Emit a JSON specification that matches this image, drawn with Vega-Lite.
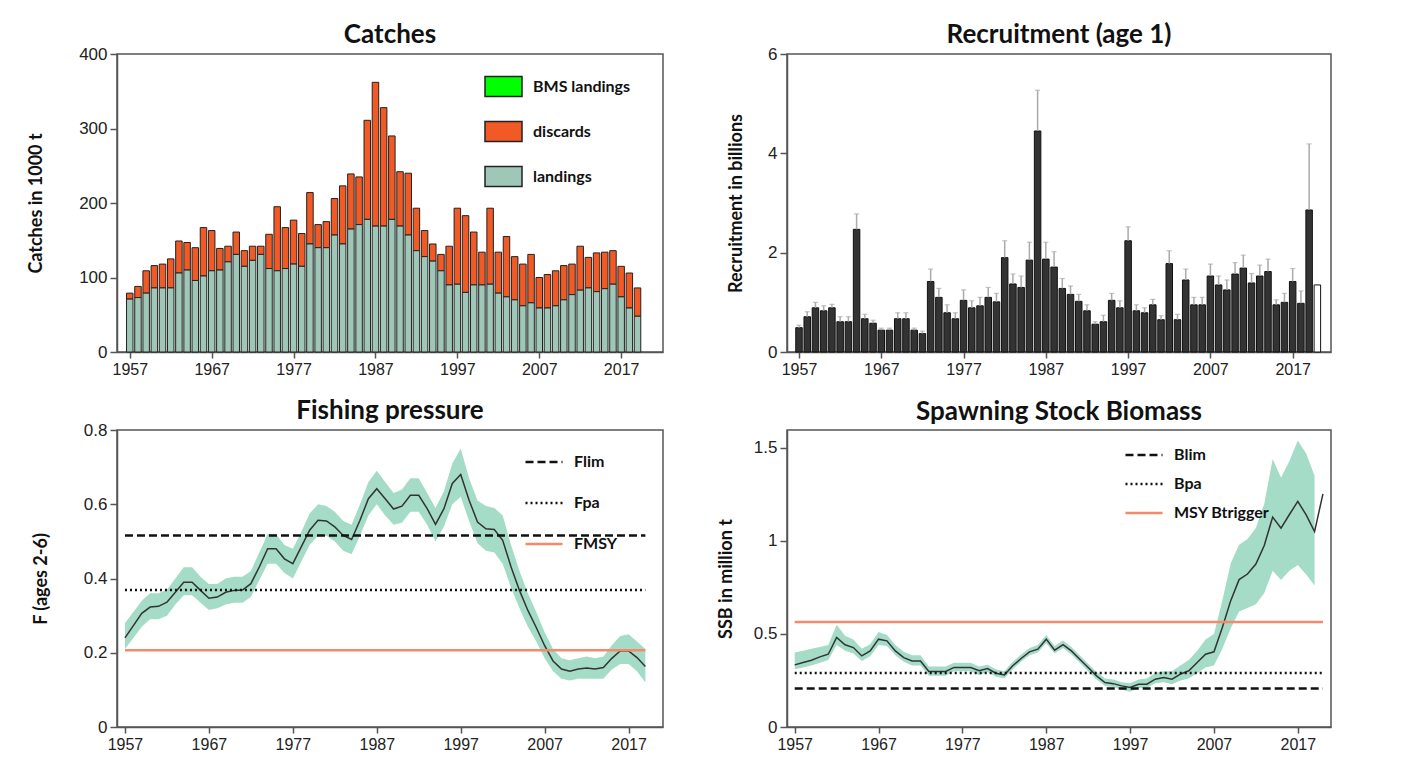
{
  "$schema": "https://vega.github.io/schema/vega-lite/v6.json",
  "autosize": {"type": "pad"},
  "padding": {"left": 26, "top": 21, "right": 6, "bottom": 6},
  "background": "white",
  "columns": 2,
  "bounds": "flush",
  "spacing": {"row": 78, "column": 124},
  "resolve": {"legend": {"fill": "independent", "color": "independent", "strokeDash": "independent"}, "scale": {"color": "independent", "strokeDash": "independent", "fill": "independent"}},
  "config": {
    "view": {"stroke": "#555", "strokeWidth": 1.5},
    "axis": {"grid": false, "domainColor": "#555", "domainWidth": 1.5, "tickColor": "#555", "tickWidth": 1.5, "tickSize": 7, "labelPadding": 3, "labelFont": "Liberation Sans", "labelFontSize": 17, "labelColor": "#222", "titleFont": "Lato", "titleFontWeight": "bold", "titleFontSize": 18, "titleColor": "#111"},
    "axisX": {"labelFontSize": 16, "tickSize": 6},
    "title": {"font": "Lato", "fontSize": 26, "fontWeight": "bold", "color": "#111", "offset": 7, "frame": "group"},
    "legend": {"labelFont": "Lato", "labelFontWeight": "bold", "labelFontSize": 16, "labelColor": "#111", "title": null}
  },
  "datasets": {
    "catch": [
      {"year":1957,"landings":71,"discards":8},{"year":1958,"landings":73,"discards":15},{"year":1959,"landings":79,"discards":30},{"year":1960,"landings":86,"discards":30},{"year":1961,"landings":86,"discards":32},{"year":1962,"landings":86,"discards":39},{"year":1963,"landings":106,"discards":43},{"year":1964,"landings":110,"discards":37},{"year":1965,"landings":96,"discards":44},{"year":1966,"landings":102,"discards":65},{"year":1967,"landings":109,"discards":54},{"year":1968,"landings":110,"discards":29},{"year":1969,"landings":121,"discards":21},{"year":1970,"landings":131,"discards":30},{"year":1971,"landings":115,"discards":21},{"year":1972,"landings":123,"discards":19},{"year":1973,"landings":131,"discards":11},{"year":1974,"landings":112,"discards":46},{"year":1975,"landings":109,"discards":86},{"year":1976,"landings":112,"discards":55},{"year":1977,"landings":118,"discards":59},{"year":1978,"landings":115,"discards":44},{"year":1979,"landings":145,"discards":69},{"year":1980,"landings":140,"discards":31},{"year":1981,"landings":140,"discards":35},{"year":1982,"landings":157,"discards":49},{"year":1983,"landings":145,"discards":78},{"year":1984,"landings":165,"discards":74},{"year":1985,"landings":171,"discards":64},{"year":1986,"landings":178,"discards":133},{"year":1987,"landings":169,"discards":193},{"year":1988,"landings":169,"discards":159},{"year":1989,"landings":178,"discards":112},{"year":1990,"landings":169,"discards":73},{"year":1991,"landings":157,"discards":83},{"year":1992,"landings":136,"discards":57},{"year":1993,"landings":128,"discards":35},{"year":1994,"landings":122,"discards":23},{"year":1995,"landings":109,"discards":22},{"year":1996,"landings":90,"discards":52},{"year":1997,"landings":91,"discards":102},{"year":1998,"landings":80,"discards":103},{"year":1999,"landings":90,"discards":71},{"year":2000,"landings":90,"discards":44},{"year":2001,"landings":91,"discards":102},{"year":2002,"landings":79,"discards":55},{"year":2003,"landings":74,"discards":81},{"year":2004,"landings":70,"discards":58},{"year":2005,"landings":62,"discards":56},{"year":2006,"landings":66,"discards":65},{"year":2007,"landings":59,"discards":41},{"year":2008,"landings":59,"discards":45},{"year":2009,"landings":62,"discards":47},{"year":2010,"landings":70,"discards":46},{"year":2011,"landings":77,"discards":41},{"year":2012,"landings":83,"discards":59},{"year":2013,"landings":86,"discards":41},{"year":2014,"landings":81,"discards":52},{"year":2015,"landings":85,"discards":49},{"year":2016,"landings":91,"discards":45},{"year":2017,"landings":74,"discards":41},{"year":2018,"landings":59,"discards":47},{"year":2019,"landings":48,"discards":38}
    ],
    "rec": [
      {"year":1957,"r":0.49,"hi":0.54},{"year":1958,"r":0.71,"hi":0.81},{"year":1959,"r":0.89,"hi":1.0},{"year":1960,"r":0.83,"hi":0.93},{"year":1961,"r":0.89,"hi":0.96},{"year":1962,"r":0.61,"hi":0.71},{"year":1963,"r":0.61,"hi":0.71},{"year":1964,"r":2.47,"hi":2.78},{"year":1965,"r":0.67,"hi":0.76},{"year":1966,"r":0.58,"hi":0.64},{"year":1967,"r":0.44,"hi":0.48},{"year":1968,"r":0.44,"hi":0.48},{"year":1969,"r":0.67,"hi":0.79},{"year":1970,"r":0.67,"hi":0.79},{"year":1971,"r":0.44,"hi":0.48},{"year":1972,"r":0.37,"hi":0.42},{"year":1973,"r":1.42,"hi":1.67},{"year":1974,"r":1.10,"hi":1.28},{"year":1975,"r":0.79,"hi":0.95},{"year":1976,"r":0.67,"hi":0.79},{"year":1977,"r":1.04,"hi":1.25},{"year":1978,"r":0.89,"hi":1.03},{"year":1979,"r":0.93,"hi":1.10},{"year":1980,"r":1.10,"hi":1.30},{"year":1981,"r":1.01,"hi":1.18},{"year":1982,"r":1.90,"hi":2.24},{"year":1983,"r":1.37,"hi":1.57},{"year":1984,"r":1.30,"hi":1.53},{"year":1985,"r":1.85,"hi":2.21},{"year":1986,"r":4.45,"hi":5.27},{"year":1987,"r":1.87,"hi":2.21},{"year":1988,"r":1.71,"hi":2.02},{"year":1989,"r":1.28,"hi":1.48},{"year":1990,"r":1.16,"hi":1.33},{"year":1991,"r":1.02,"hi":1.16},{"year":1992,"r":0.83,"hi":0.95},{"year":1993,"r":0.56,"hi":0.61},{"year":1994,"r":0.61,"hi":0.74},{"year":1995,"r":1.04,"hi":1.18},{"year":1996,"r":0.89,"hi":1.03},{"year":1997,"r":2.24,"hi":2.52},{"year":1998,"r":0.83,"hi":0.95},{"year":1999,"r":0.79,"hi":0.89},{"year":2000,"r":0.95,"hi":1.06},{"year":2001,"r":0.65,"hi":0.73},{"year":2002,"r":1.78,"hi":2.04},{"year":2003,"r":0.65,"hi":0.76},{"year":2004,"r":1.45,"hi":1.67},{"year":2005,"r":0.95,"hi":1.10},{"year":2006,"r":0.95,"hi":1.10},{"year":2007,"r":1.53,"hi":1.77},{"year":2008,"r":1.35,"hi":1.53},{"year":2009,"r":1.25,"hi":1.45},{"year":2010,"r":1.57,"hi":1.80},{"year":2011,"r":1.69,"hi":1.95},{"year":2012,"r":1.39,"hi":1.58},{"year":2013,"r":1.53,"hi":1.75},{"year":2014,"r":1.62,"hi":1.87},{"year":2015,"r":0.95,"hi":1.05},{"year":2016,"r":1.00,"hi":1.18},{"year":2017,"r":1.42,"hi":1.68},{"year":2018,"r":0.98,"hi":1.23},{"year":2019,"r":2.86,"hi":4.19},{"year":2020,"r":1.35}
    ],
    "fish": [
      {"year":1957,"f":0.240,"lo":0.21,"hi":0.28},{"year":1958,"f":0.273,"lo":0.24,"hi":0.31},{"year":1959,"f":0.306,"lo":0.27,"hi":0.34},{"year":1960,"f":0.323,"lo":0.29,"hi":0.36},{"year":1961,"f":0.325,"lo":0.29,"hi":0.36},{"year":1962,"f":0.336,"lo":0.30,"hi":0.37},{"year":1963,"f":0.363,"lo":0.33,"hi":0.40},{"year":1964,"f":0.390,"lo":0.355,"hi":0.43},{"year":1965,"f":0.390,"lo":0.355,"hi":0.43},{"year":1966,"f":0.368,"lo":0.335,"hi":0.405},{"year":1967,"f":0.347,"lo":0.315,"hi":0.385},{"year":1968,"f":0.350,"lo":0.32,"hi":0.385},{"year":1969,"f":0.363,"lo":0.33,"hi":0.40},{"year":1970,"f":0.368,"lo":0.335,"hi":0.405},{"year":1971,"f":0.369,"lo":0.335,"hi":0.405},{"year":1972,"f":0.386,"lo":0.35,"hi":0.42},{"year":1973,"f":0.431,"lo":0.395,"hi":0.47},{"year":1974,"f":0.480,"lo":0.44,"hi":0.52},{"year":1975,"f":0.480,"lo":0.44,"hi":0.52},{"year":1976,"f":0.453,"lo":0.415,"hi":0.49},{"year":1977,"f":0.440,"lo":0.40,"hi":0.48},{"year":1978,"f":0.485,"lo":0.445,"hi":0.525},{"year":1979,"f":0.530,"lo":0.49,"hi":0.575},{"year":1980,"f":0.557,"lo":0.515,"hi":0.60},{"year":1981,"f":0.555,"lo":0.515,"hi":0.595},{"year":1982,"f":0.539,"lo":0.50,"hi":0.58},{"year":1983,"f":0.516,"lo":0.475,"hi":0.555},{"year":1984,"f":0.505,"lo":0.465,"hi":0.545},{"year":1985,"f":0.557,"lo":0.515,"hi":0.60},{"year":1986,"f":0.615,"lo":0.57,"hi":0.66},{"year":1987,"f":0.642,"lo":0.60,"hi":0.69},{"year":1988,"f":0.615,"lo":0.57,"hi":0.66},{"year":1989,"f":0.587,"lo":0.545,"hi":0.63},{"year":1990,"f":0.595,"lo":0.55,"hi":0.64},{"year":1991,"f":0.624,"lo":0.58,"hi":0.67},{"year":1992,"f":0.624,"lo":0.58,"hi":0.67},{"year":1993,"f":0.588,"lo":0.545,"hi":0.63},{"year":1994,"f":0.546,"lo":0.50,"hi":0.59},{"year":1995,"f":0.588,"lo":0.54,"hi":0.635},{"year":1996,"f":0.656,"lo":0.60,"hi":0.71},{"year":1997,"f":0.680,"lo":0.62,"hi":0.75},{"year":1998,"f":0.611,"lo":0.555,"hi":0.67},{"year":1999,"f":0.552,"lo":0.495,"hi":0.61},{"year":2000,"f":0.534,"lo":0.475,"hi":0.595},{"year":2001,"f":0.532,"lo":0.47,"hi":0.59},{"year":2002,"f":0.503,"lo":0.44,"hi":0.57},{"year":2003,"f":0.431,"lo":0.375,"hi":0.49},{"year":2004,"f":0.368,"lo":0.32,"hi":0.42},{"year":2005,"f":0.314,"lo":0.27,"hi":0.36},{"year":2006,"f":0.268,"lo":0.23,"hi":0.31},{"year":2007,"f":0.219,"lo":0.185,"hi":0.255},{"year":2008,"f":0.178,"lo":0.15,"hi":0.21},{"year":2009,"f":0.156,"lo":0.13,"hi":0.185},{"year":2010,"f":0.150,"lo":0.125,"hi":0.18},{"year":2011,"f":0.156,"lo":0.13,"hi":0.185},{"year":2012,"f":0.159,"lo":0.13,"hi":0.19},{"year":2013,"f":0.156,"lo":0.13,"hi":0.185},{"year":2014,"f":0.160,"lo":0.13,"hi":0.19},{"year":2015,"f":0.185,"lo":0.155,"hi":0.22},{"year":2016,"f":0.205,"lo":0.17,"hi":0.245},{"year":2017,"f":0.205,"lo":0.17,"hi":0.25},{"year":2018,"f":0.187,"lo":0.15,"hi":0.23},{"year":2019,"f":0.163,"lo":0.12,"hi":0.21}
    ],
    "ssb": [
      {"year":1957,"b":0.334,"lo":0.31,"hi":0.40},{"year":1958,"b":0.347,"lo":0.32,"hi":0.41},{"year":1959,"b":0.359,"lo":0.33,"hi":0.42},{"year":1960,"b":0.377,"lo":0.345,"hi":0.43},{"year":1961,"b":0.391,"lo":0.36,"hi":0.44},{"year":1962,"b":0.481,"lo":0.44,"hi":0.55},{"year":1963,"b":0.442,"lo":0.41,"hi":0.49},{"year":1964,"b":0.427,"lo":0.395,"hi":0.47},{"year":1965,"b":0.382,"lo":0.355,"hi":0.42},{"year":1966,"b":0.409,"lo":0.38,"hi":0.445},{"year":1967,"b":0.472,"lo":0.44,"hi":0.51},{"year":1968,"b":0.463,"lo":0.435,"hi":0.495},{"year":1969,"b":0.409,"lo":0.385,"hi":0.44},{"year":1970,"b":0.373,"lo":0.35,"hi":0.405},{"year":1971,"b":0.355,"lo":0.33,"hi":0.385},{"year":1972,"b":0.355,"lo":0.33,"hi":0.385},{"year":1973,"b":0.298,"lo":0.275,"hi":0.325},{"year":1974,"b":0.298,"lo":0.275,"hi":0.325},{"year":1975,"b":0.298,"lo":0.275,"hi":0.325},{"year":1976,"b":0.320,"lo":0.30,"hi":0.345},{"year":1977,"b":0.320,"lo":0.30,"hi":0.345},{"year":1978,"b":0.320,"lo":0.30,"hi":0.345},{"year":1979,"b":0.302,"lo":0.28,"hi":0.325},{"year":1980,"b":0.314,"lo":0.295,"hi":0.335},{"year":1981,"b":0.289,"lo":0.27,"hi":0.31},{"year":1982,"b":0.280,"lo":0.26,"hi":0.30},{"year":1983,"b":0.329,"lo":0.31,"hi":0.35},{"year":1984,"b":0.368,"lo":0.35,"hi":0.39},{"year":1985,"b":0.404,"lo":0.385,"hi":0.425},{"year":1986,"b":0.418,"lo":0.40,"hi":0.44},{"year":1987,"b":0.472,"lo":0.45,"hi":0.495},{"year":1988,"b":0.413,"lo":0.395,"hi":0.435},{"year":1989,"b":0.443,"lo":0.425,"hi":0.465},{"year":1990,"b":0.409,"lo":0.39,"hi":0.43},{"year":1991,"b":0.364,"lo":0.345,"hi":0.385},{"year":1992,"b":0.320,"lo":0.30,"hi":0.34},{"year":1993,"b":0.275,"lo":0.255,"hi":0.295},{"year":1994,"b":0.239,"lo":0.22,"hi":0.26},{"year":1995,"b":0.233,"lo":0.215,"hi":0.255},{"year":1996,"b":0.221,"lo":0.20,"hi":0.24},{"year":1997,"b":0.212,"lo":0.19,"hi":0.235},{"year":1998,"b":0.230,"lo":0.21,"hi":0.255},{"year":1999,"b":0.230,"lo":0.21,"hi":0.26},{"year":2000,"b":0.257,"lo":0.235,"hi":0.29},{"year":2001,"b":0.266,"lo":0.24,"hi":0.30},{"year":2002,"b":0.257,"lo":0.23,"hi":0.30},{"year":2003,"b":0.284,"lo":0.25,"hi":0.33},{"year":2004,"b":0.302,"lo":0.26,"hi":0.36},{"year":2005,"b":0.347,"lo":0.29,"hi":0.41},{"year":2006,"b":0.391,"lo":0.32,"hi":0.47},{"year":2007,"b":0.404,"lo":0.33,"hi":0.50},{"year":2008,"b":0.535,"lo":0.42,"hi":0.68},{"year":2009,"b":0.679,"lo":0.53,"hi":0.88},{"year":2010,"b":0.792,"lo":0.62,"hi":0.98},{"year":2011,"b":0.822,"lo":0.64,"hi":1.01},{"year":2012,"b":0.876,"lo":0.66,"hi":1.07},{"year":2013,"b":0.975,"lo":0.72,"hi":1.20},{"year":2014,"b":1.128,"lo":0.84,"hi":1.44},{"year":2015,"b":1.068,"lo":0.79,"hi":1.34},{"year":2016,"b":1.142,"lo":0.84,"hi":1.43},{"year":2017,"b":1.212,"lo":0.87,"hi":1.54},{"year":2018,"b":1.140,"lo":0.82,"hi":1.47},{"year":2019,"b":1.050,"lo":0.76,"hi":1.35},{"year":2020,"b":1.253}
    ],
    "fref": [{"ref":"Flim","value":0.516},{"ref":"Fpa","value":0.369},{"ref":"FMSY","value":0.207}],
    "bref": [{"ref":"Blim","value":0.207},{"ref":"Bpa","value":0.290},{"ref":"MSY Btrigger","value":0.564}]
  },
  "concat": [
    {
      "title": {"text": "Catches", "dy": 10},
      "width": 546, "height": 298,
      "data": {"name": "catch"},
      "transform": [{"fold": ["discards", "landings"], "as": ["type", "value"]}],
      "mark": {"type": "bar", "width": 6.5, "stroke": "#222", "strokeWidth": 1},
      "encoding": {
        "x": {"field": "year", "type": "quantitative", "scale": {"domain": [1956.05, 2021.5], "nice": false, "zero": false},
              "axis": {"title": null, "values": [1957,1967,1977,1987,1997,2007,2017], "format": "d"}},
        "y": {"field": "value", "type": "quantitative", "stack": "zero", "scale": {"domain": [0, 400], "nice": false},
              "axis": {"title": "Catches in 1000 t", "values": [0,100,200,300,400], "titlePadding": 33}},
        "fill": {"field": "type", "type": "nominal",
                 "scale": {"domain": ["BMS landings", "discards", "landings"], "range": ["#00ff00", "#f15a24", "#9fc7b8"]},
                 "legend": {"orient": "none", "legendX": 367, "legendY": 13, "symbolType": "M-1,-0.54H1V0.54H-1Z", "symbolSize": 1369, "symbolStrokeColor": "#222", "symbolStrokeWidth": 1.5, "symbolOpacity": 1, "labelOffset": 10, "rowPadding": 12}},
        "order": {"field": "type", "sort": "descending"}
      }
    },
    {
      "title": {"text": "Recruitment (age 1)", "dy": 10},
      "width": 544, "height": 298,
      "data": {"name": "rec"},
      "layer": [
        {
          "mark": {"type": "bar", "width": 6.5, "stroke": "#111", "strokeWidth": 1},
          "encoding": {
            "x": {"field": "year", "type": "quantitative", "scale": {"domain": [1956.15, 2021.05], "nice": false, "zero": false},
                  "axis": {"title": null, "values": [1957,1967,1977,1987,1997,2007,2017], "format": "d"}},
            "y": {"field": "r", "type": "quantitative", "scale": {"domain": [0, 6], "nice": false},
                  "axis": {"title": "Recruitment in billions", "values": [0,2,4,6], "titlePadding": 22}},
            "fill": {"condition": {"test": "datum.year === 2020", "value": "white"}, "value": "#333"}
          }
        },
        {
          "mark": {"type": "rule", "color": "#aaaaaa", "strokeWidth": 1.5},
          "encoding": {
            "x": {"field": "year", "type": "quantitative"},
            "y": {"field": "r", "type": "quantitative"},
            "y2": {"field": "hi"}
          }
        },
        {
          "mark": {"type": "tick", "orient": "horizontal", "color": "#aaaaaa", "size": 5, "thickness": 1.2},
          "encoding": {
            "x": {"field": "year", "type": "quantitative"},
            "y": {"field": "hi", "type": "quantitative"}
          }
        }
      ]
    },
    {
      "title": {"text": "Fishing pressure", "dy": 10},
      "width": 546, "height": 297,
      "layer": [
        {
          "data": {"name": "fish"},
          "mark": {"type": "area", "color": "#a4dcc8", "opacity": 1},
          "encoding": {
            "x": {"field": "year", "type": "quantitative", "scale": {"domain": [1956.05, 2021.1], "nice": false, "zero": false},
                  "axis": {"title": null, "values": [1957,1967,1977,1987,1997,2007,2017], "format": "d"}},
            "y": {"field": "lo", "type": "quantitative", "scale": {"domain": [0, 0.8], "nice": false},
                  "axis": {"title": "F (ages 2-6)", "values": [0,0.2,0.4,0.6,0.8], "format": "~g", "titlePadding": 33}},
            "y2": {"field": "hi"}
          }
        },
        {
          "data": {"name": "fish"},
          "mark": {"type": "line", "color": "#333", "strokeWidth": 1.5},
          "encoding": {
            "x": {"field": "year", "type": "quantitative"},
            "y": {"field": "f", "type": "quantitative"}
          }
        },
        {
          "data": {"name": "fref"},
          "mark": {"type": "rule", "strokeWidth": 2.5},
          "encoding": {
            "x": {"datum": 1957},
            "x2": {"datum": 2019},
            "y": {"field": "value", "type": "quantitative"},
            "color": {"field": "ref", "type": "nominal", "scale": {"domain": ["Flim", "Fpa", "FMSY"], "range": ["#111111", "#111111", "#f4896b"]},
                      "legend": {"orient": "none", "legendX": 407, "legendY": 12, "symbolType": "stroke", "symbolSize": 1369, "symbolStrokeWidth": 2.5, "labelOffset": 10, "rowPadding": 13}},
            "strokeDash": {"field": "ref", "type": "nominal", "scale": {"domain": ["Flim", "Fpa", "FMSY"], "range": [[8, 4], [2, 3], [1, 0]]}}
          }
        }
      ]
    },
    {
      "title": {"text": "Spawning Stock Biomass", "dy": 2},
      "width": 544, "height": 297,
      "layer": [
        {
          "data": {"name": "ssb"},
          "mark": {"type": "area", "color": "#a4dcc8", "opacity": 1},
          "encoding": {
            "x": {"field": "year", "type": "quantitative", "scale": {"domain": [1956.08, 2020.96], "nice": false, "zero": false},
                  "axis": {"title": null, "values": [1957,1967,1977,1987,1997,2007,2017], "format": "d"}},
            "y": {"field": "lo", "type": "quantitative", "scale": {"domain": [0, 1.596], "nice": false},
                  "axis": {"title": "SSB in million t", "values": [0,0.5,1,1.5], "format": "~g", "titlePadding": 18}},
            "y2": {"field": "hi"}
          }
        },
        {
          "data": {"name": "ssb"},
          "mark": {"type": "line", "color": "#333", "strokeWidth": 1.5},
          "encoding": {
            "x": {"field": "year", "type": "quantitative"},
            "y": {"field": "b", "type": "quantitative"}
          }
        },
        {
          "data": {"name": "bref"},
          "mark": {"type": "rule", "strokeWidth": 2.5},
          "encoding": {
            "x": {"datum": 1957},
            "x2": {"datum": 2020},
            "y": {"field": "value", "type": "quantitative"},
            "color": {"field": "ref", "type": "nominal", "scale": {"domain": ["Blim", "Bpa", "MSY Btrigger"], "range": ["#111111", "#111111", "#f4896b"]},
                      "legend": {"orient": "none", "legendX": 337, "legendY": 5, "symbolType": "stroke", "symbolSize": 1369, "symbolStrokeWidth": 2.5, "labelOffset": 10, "rowPadding": 1}},
            "strokeDash": {"field": "ref", "type": "nominal", "scale": {"domain": ["Blim", "Bpa", "MSY Btrigger"], "range": [[8, 4], [2, 3], [1, 0]]}}
          }
        }
      ]
    }
  ]
}
